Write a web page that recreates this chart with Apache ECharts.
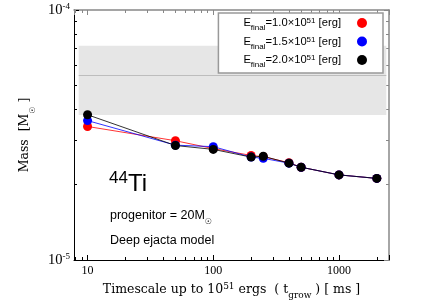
<!DOCTYPE html>
<html><head><meta charset="utf-8">
<script src="https://cdn.jsdelivr.net/npm/echarts@6/dist/echarts.min.js"></script>
<style>html,body{margin:0;padding:0;background:#fff}#c{width:436px;height:305px}</style>
</head><body><div id="c"></div>
<script>
// ---- data ----
const timescales = [10, 50, 100, 200, 250, 400, 500, 1000, 2000];
const massE10 = [3.42e-5, 3.00e-5, 2.79e-5, 2.62e-5, 2.59e-5, 2.45e-5, 2.35e-5, 2.19e-5, 2.12e-5];
const massE15 = [3.61e-5, 2.88e-5, 2.84e-5, 2.58e-5, 2.55e-5, 2.44e-5, 2.35e-5, 2.19e-5, 2.12e-5];
const massE20 = [3.81e-5, 2.87e-5, 2.77e-5, 2.58e-5, 2.60e-5, 2.44e-5, 2.35e-5, 2.19e-5, 2.12e-5];
const seriesNames = ['E1.0', 'E1.5', 'E2.0'];
const energyLabels = ['1.0', '1.5', '2.0'];
const seriesColors = ['#ff0000', '#0000ff', '#000000'];
const obsBand = [3.8e-5, 7.2e-5];
const obsMid = 5.5e-5;
const obsBandX = [8.5, 2380];
const xRange = [7.8, 2500];
const yRange = [1e-5, 1e-4];

const serif = '"Liberation Serif", "DejaVu Serif", serif';
const wideSerif = '"DejaVu Serif", "Liberation Serif", serif';
const sans = '"Liberation Sans", "DejaVu Sans", sans-serif';

function pairs(ys) { return timescales.map((x, i) => [x, ys[i]]); }
const allMass = [massE10, massE15, massE20];

const series = allMass.map((ys, i) => ({
  name: seriesNames[i],
  type: 'line',
  data: pairs(ys),
  symbol: 'circle',
  symbolSize: 9,
  showSymbol: true,
  color: seriesColors[i],
  itemStyle: { color: seriesColors[i] },
  lineStyle: { color: seriesColors[i], width: 0.8 },
  z: 3 + i,
  animation: false
}));
series[0].markArea = {
  silent: true,
  itemStyle: { color: '#e6e6e6' },
  data: [[{ coord: [obsBandX[0], obsBand[0]] }, { coord: [obsBandX[1], obsBand[1]] }]]
};
series[0].markLine = {
  silent: true, symbol: 'none', label: { show: false },
  lineStyle: { color: '#bdbdbd', width: 1, type: 'solid' },
  data: [[{ coord: [obsBandX[0], obsMid] }, { coord: [obsBandX[1], obsMid] }]]
};

function isPow10(v) {
  const l = Math.log10(v);
  return Math.abs(l - Math.round(l)) < 1e-6;
}

const chart = echarts.init(document.getElementById('c'), null, { renderer: 'canvas' });
chart.setOption({
  animation: false,
  backgroundColor: '#fff',
  grid: { left: 74, right: 47, top: 10, bottom: 45 },
  xAxis: [{
    type: 'log', logBase: 10, min: xRange[0], max: xRange[1],
    name: '{b|Timescale up to 10}{sup|51}{b| ergs  ( t}{sub|grow}{b| ) [ ms ]}',
    nameLocation: 'middle', nameGap: 22,
    nameTextStyle: {
      rich: {
        b: { fontFamily: wideSerif, fontSize: 12.5, color: '#000', lineHeight: 16 },
        sup: { fontFamily: wideSerif, fontSize: 9, color: '#000', verticalAlign: 'top', lineHeight: 10 },
        sub: { fontFamily: wideSerif, fontSize: 9, color: '#000', verticalAlign: 'bottom', lineHeight: 10, padding: [0, 0, -2, 0] }
      }
    },
    axisLine: { lineStyle: { color: '#000', width: 1 } },
    axisTick: { inside: true, length: 5, lineStyle: { color: '#000' } },
    minorTick: { show: true, splitNumber: 9, length: 3, lineStyle: { color: '#000' } },
    splitLine: { show: false },
    axisLabel: {
      margin: 5, color: '#000', fontFamily: serif, fontSize: 12,
      showMinLabel: false, showMaxLabel: false,
      formatter: v => isPow10(v) ? String(Math.round(v)) : ''
    }
  }, {
    type: 'log', logBase: 10, min: xRange[0], max: xRange[1], position: 'top',
    axisLine: { lineStyle: { color: '#888', width: 1.5 } },
    axisTick: { inside: true, length: 5, lineStyle: { color: '#888' } },
    minorTick: { show: true, splitNumber: 9, length: 3, lineStyle: { color: '#888' } },
    splitLine: { show: false },
    axisLabel: { show: false }
  }],
  yAxis: [{
    type: 'log', logBase: 10, min: yRange[0], max: yRange[1],
    name: '{b|Mass  [M}{sub|☉}{b| ]}',
    nameLocation: 'middle', nameGap: 30, nameRotate: 90,
    nameTextStyle: {
      rich: {
        b: { fontFamily: wideSerif, fontSize: 12.5, color: '#000', lineHeight: 16 },
        sub: { fontFamily: '"DejaVu Sans", sans-serif', fontSize: 8, color: '#000', verticalAlign: 'bottom', lineHeight: 10, padding: [0, 0, -4, 0] }
      }
    },
    axisLine: { lineStyle: { color: '#000', width: 1 } },
    axisTick: { inside: true, length: 5, lineStyle: { color: '#000' } },
    minorTick: { show: true, splitNumber: 9, length: 3, lineStyle: { color: '#000' } },
    splitLine: { show: false },
    axisLabel: {
      margin: 4, color: '#000',
      formatter: v => isPow10(v) ? '{b|10}{s|' + Math.round(Math.log10(v)) + '}' : '',
      rich: {
        b: { fontFamily: serif, fontSize: 14.5, color: '#000', lineHeight: 16 },
        s: { fontFamily: serif, fontSize: 9, color: '#000', verticalAlign: 'top', lineHeight: 10, padding: [0, 0, 6, 0] }
      }
    }
  }, {
    type: 'log', logBase: 10, min: yRange[0], max: yRange[1], position: 'right',
    axisLine: { lineStyle: { color: '#888', width: 1.5 } },
    axisTick: { inside: true, length: 5, lineStyle: { color: '#888' } },
    minorTick: { show: true, splitNumber: 9, length: 3, lineStyle: { color: '#888' } },
    splitLine: { show: false },
    axisLabel: { show: false }
  }],
  legend: {
    orient: 'vertical', align: 'right',
    right: 53, top: 13,
    padding: [4, 16, 4, 25],
    itemGap: 3.5, itemWidth: 10, itemHeight: 10,
    icon: 'circle',
    backgroundColor: '#fff', borderColor: '#999', borderWidth: 1.5, borderRadius: 0,
    data: seriesNames,
    formatter: name => {
      const e = energyLabels[seriesNames.indexOf(name)];
      return '{n|E}{sub|final}{n|=' + e + '×10}{sup|51}{n| [erg]}';
    },
    textStyle: {
      padding: [0, 11, 0, 0],
      rich: {
        n: { fontFamily: sans, fontSize: 11.2, color: '#000', lineHeight: 12 },
        sub: { fontFamily: sans, fontSize: 8, color: '#000', verticalAlign: 'bottom', lineHeight: 8, padding: [0, 0, -3, 0] },
        sup: { fontFamily: sans, fontSize: 8, color: '#000', verticalAlign: 'top', lineHeight: 8, padding: [0, 0, 4, 0] }
      }
    }
  },
  graphic: [
    {
      type: 'text', left: 109, top: 170, z: 10,
      style: {
        text: '{a|44}{b|Ti}',
        rich: {
          a: { fontFamily: sans, fontSize: 17, fill: '#000', verticalAlign: 'top', lineHeight: 17 },
          b: { fontFamily: sans, fontSize: 24, fill: '#000', lineHeight: 28 }
        }
      }
    },
    {
      type: 'text', left: 110, top: 209, z: 10,
      style: {
        text: '{a|progenitor = 20M}{s|☉}',
        rich: {
          a: { fontFamily: sans, fontSize: 12.5, fill: '#000', lineHeight: 15 },
          s: { fontFamily: '"DejaVu Sans", sans-serif', fontSize: 8, fill: '#000', verticalAlign: 'bottom', lineHeight: 8, padding: [0, 0, -3, 0] }
        }
      }
    },
    {
      type: 'text', left: 110, top: 234, z: 10,
      style: { text: 'Deep ejacta model', font: '12.5px ' + sans, fill: '#000' }
    }
  ],
  series: series
});
</script></body></html>
